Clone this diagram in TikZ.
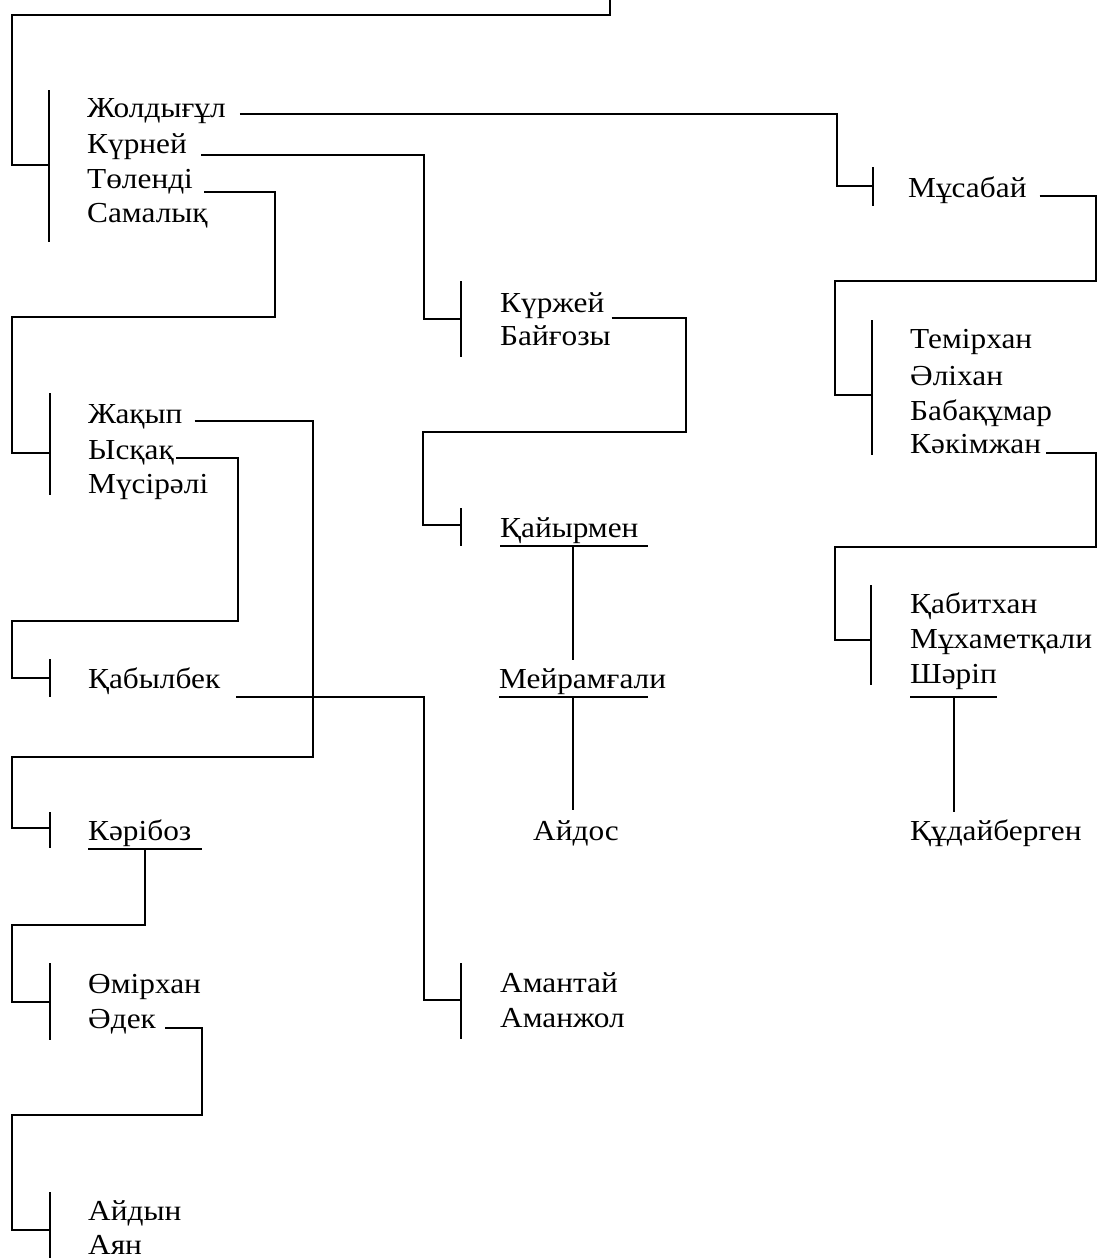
\documentclass[tikz,border=0pt]{standalone}
\usepackage{fontspec}
\setmainfont{Liberation Serif}[FakeStretch=1.08]
\newcommand\nmfont{\fontsize{29}{34}\selectfont}
\tikzset{
  ln/.style={line width=2.5pt},
  barln/.style={line width=2.8pt},
  nm/.style={anchor=base west, inner sep=0pt, font=\nmfont}
}
\begin{document}
\begin{tikzpicture}[x=1pt,y=-1pt]
\useasboundingbox (0,0) rectangle (1098,1258);
\fill[white] (0,0) rectangle (1098,1258);

% ---------- names ----------
\node[nm] (zhol) at (87,117) {Жолдығұл};
\node[nm] (kurn) at (87,153) {Күрней};
\node[nm] (tol)  at (87,188) {Төленді};
\node[nm] (sam)  at (87,222) {Самалық};

\node[nm] (mus)  at (908,197) {Мұсабай};

\node[nm] (tem)  at (910,348) {Темірхан};
\node[nm] (ali)  at (910,385) {Әліхан};
\node[nm] (bab)  at (910,420) {Бабақұмар};
\node[nm] (kak)  at (910,453) {Кәкімжан};

\node[nm] (kab)  at (910,613) {Қабитхан};
\node[nm] (muh)  at (910,648) {Мұхаметқали};
\node[nm] (shar) at (910,683) {Шәріп};
\node[nm] (kud)  at (910,840) {Құдайберген};

\node[nm] (kurzh) at (500,312) {Күржей};
\node[nm] (bai)   at (500,345) {Байғозы};
\node[nm] (kai)   at (500,537) {Қайырмен};
\node[nm] (mei)   at (499,688) {Мейрамғали};
\node[nm] (aid)   at (533,840) {Айдос};

\node[nm] (zhak) at (88,423) {Жақып};
\node[nm] (ysk)  at (88,459) {Ысқақ};
\node[nm] (mys)  at (88,493) {Мүсірәлі};

\node[nm] (kabyl) at (88,688) {Қабылбек};

\node[nm] (amt) at (500,992) {Амантай};
\node[nm] (amz) at (500,1027) {Аманжол};

\node[nm] (kar) at (88,840) {Кәрібоз};

\node[nm] (omi) at (88,993) {Өмірхан};
\node[nm] (ade) at (88,1028) {Әдек};

\node[nm] (aidyn) at (88,1220) {Айдын};
\node[nm] (ayan)  at (88,1254) {Аян};

% ---------- bars ----------
\draw[barln] (49,90) -- (49,242);     % A
\draw[barln] (873,167) -- (873,206);  % B
\draw[barln] (872,320) -- (872,455);  % C
\draw[barln] (871,585) -- (871,685);  % D
\draw[barln] (461,281) -- (461,357);  % E
\draw[barln] (461,508) -- (461,546);  % F
\draw[barln] (50,393) -- (50,495);    % G
\draw[barln] (50,659) -- (50,697);    % H
\draw[barln] (461,963) -- (461,1039); % I
\draw[barln] (50,812) -- (50,848);    % J
\draw[barln] (50,963) -- (50,1040);   % K
\draw[barln] (50,1192) -- (50,1258);  % L

% ---------- connectors ----------
\coordinate (top) at (610,0);
\draw[ln] (top) -- (610,15) -- (12,15) -- (12,165) -- (49,165);

\draw[ln] ([xshift=14pt,yshift=3pt]zhol.base east) -| (837,186) -- (873,186);
\draw[ln] ([xshift=13pt,yshift=1pt]mus.base east) -- (1096,196) -- (1096,281) -- (835,281) -- (835,395) -- (872,395);
\draw[ln] ([xshift=5pt]kak.base east) -- (1096,453) -- (1096,547) -- (835,547) -- (835,640) -- (871,640);

\draw[ln] ([xshift=14pt,yshift=-2pt]kurn.base east) -| (424,319) -- (461,319);
\draw[ln] ([xshift=7pt,yshift=-6pt]kurzh.base east) -| (686,432) -- (423,432) -- (423,525) -- (461,525);

\draw[ln] ([xshift=11pt,yshift=-4pt]tol.base east) -| (275,317) -- (12,317) -- (12,453) -- (50,453);
\draw[ln] ([xshift=12pt,yshift=2pt]zhak.base east) -| (313,757) -- (12,757) -- (12,828) -- (50,828);
\draw[ln] ([xshift=2pt,yshift=1pt]ysk.base east) -| (238,621) -- (12,621) -- (12,678) -- (50,678);
\draw[ln] ([xshift=16pt,yshift=-9pt]kabyl.base east) -| (424,1000) -- (461,1000);
\draw[ln] ([xshift=9pt]ade.base east) -| (202,1115) -- (12,1115) -- (12,1230) -- (50,1230);

% ---------- underlines and descents ----------
\draw[ln] (500,546) -- (648,546);
\draw[ln] (573,546) -- (573,660);
\draw[ln] (499,697) -- (648,697);
\draw[ln] (573,697) -- (573,810);

\draw[ln] (910,697) -- (997,697);
\draw[ln] (954,697) -- (954,812);

\draw[ln] (88,849) -- (202,849);
\draw[ln] (145,849) -- (145,925) -- (12,925) -- (12,1002) -- (50,1002);
\end{tikzpicture}
\end{document}
